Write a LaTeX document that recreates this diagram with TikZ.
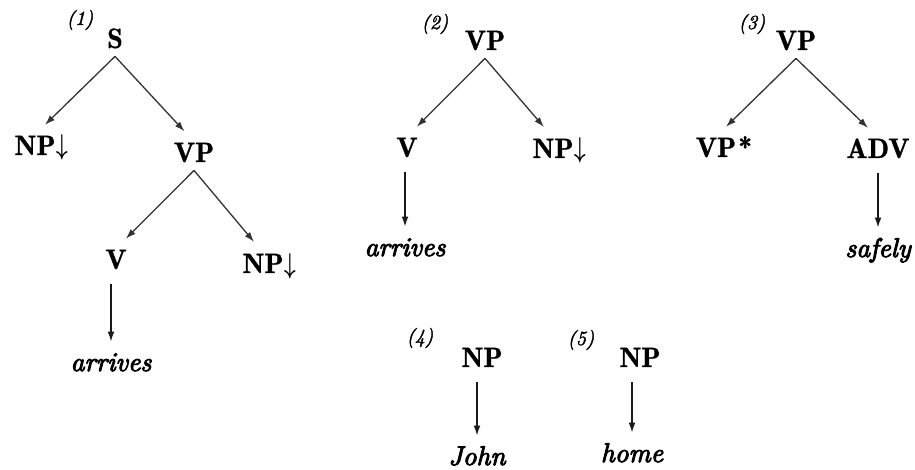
\documentclass[tikz,border=0pt]{standalone}
\usepackage{fontspec}
\usepackage{amsmath}
\usetikzlibrary{arrows.meta}
% category labels, lexical words and tree numbers
\newfontfamily\catface{lmromandemi10-regular.otf}[FakeBold=1]
\newfontfamily\wordface{lmroman10-italic.otf}[FakeBold=3.5]
\newfontfamily\tagface{lmroman10-italic.otf}[FakeBold=2]
\newcommand{\catfont}{\catface\fontsize{14}{17}\selectfont}
\newcommand{\wordfont}{\wordface\fontsize{13.5}{16}\selectfont}
\newcommand{\tagfont}{\tagface\fontsize{10}{12}\selectfont}
% substitution mark after a category
\newcommand{\subst}{\rlap{\kern0.5pt\scalebox{0.7}[1]{$\boldsymbol{\downarrow}$}}}
\begin{document}
\begin{tikzpicture}[x=0.5pt,y=-0.5pt,
  cat/.style={font=\catfont, inner sep=0pt, text height=10pt, text depth=4pt, anchor=base},
  word/.style={font=\wordfont, inner sep=0pt, text height=10pt, text depth=4pt, anchor=base},
  tag/.style={font=\tagfont, inner sep=0pt},
  branch/.style={-{Latex[length=5pt,width=3.4pt]}, line width=0.65pt, draw=black!80, shorten >=7pt},
  stem/.style={-{Latex[length=5pt,width=3.4pt]}, line width=0.7pt, draw=black!90, shorten <=3.5pt, shorten >=4.5pt}]
\useasboundingbox (0,0) rectangle (915,470);

% (1) S -> NP VP, VP -> V NP, V -> arrives
\node[tag] (t1) at (80,20) {(1)};
\node[cat] (s1)  at (115,48)  {S};
\node[cat] (np1) at (35,155)  {NP\subst};
\node[cat] (vp1) at (194,162) {VP};
\node[cat] (v1)  at (116,269) {V};
\node[cat] (np2) at (263,273) {NP\subst};
\node[word] (w1) at (111,371) {arrives};
\draw[branch] (s1.south) -- (np1.north);
\draw[branch] (s1.south) -- (vp1.north);
\draw[branch] (vp1.south) -- (v1.north);
\draw[branch] (vp1.south) -- (np2.north);
\draw[stem] (w1.north |- v1.south) -- (w1.north);

% (2) VP -> V NP, V -> arrives
\node[tag] (t2) at (435,24) {(2)};
\node[cat] (vp2) at (485,50)  {VP};
\node[cat] (v2)  at (407,157) {V};
\node[cat] (np3) at (553,158) {NP\subst};
\node[word] (w2) at (405,256) {arrives};
\draw[branch] (vp2.south) -- (v2.north);
\draw[branch] (vp2.south) -- (np3.north);
\draw[stem] (w2.north |- v2.south) -- (w2.north);

% (3) VP -> VP* ADV, ADV -> safely
\node[tag] (t3) at (752,24) {(3)};
\node[cat] (vp3) at (796,50)  {VP};
\node[cat] (vp4) at (716,157) {VP\rlap{\kern1pt*}};
\node[cat] (adv) at (878,158) {ADV};
\node[word] (w3) at (878,257) {safely};
\draw[branch] (vp3.south) -- (vp4.north);
\draw[branch] (vp3.south) -- (adv.north);
\draw[stem] (w3.north |- adv.south) -- (w3.north);

% (4) NP -> John
\node[tag] (t4) at (420,338) {(4)};
\node[cat] (np4) at (482,367) {NP};
\node[word] (w4) at (477,465) {John};
\draw[stem] (w4.north |- np4.south) -- (w4.north);

% (5) NP -> home
\node[tag] (t5) at (581,340) {(5)};
\node[cat] (np5) at (640,367) {NP};
\node[word] (w5) at (632,462) {home};
\draw[stem] (w5.north |- np5.south) -- (w5.north);
\end{tikzpicture}
\end{document}
